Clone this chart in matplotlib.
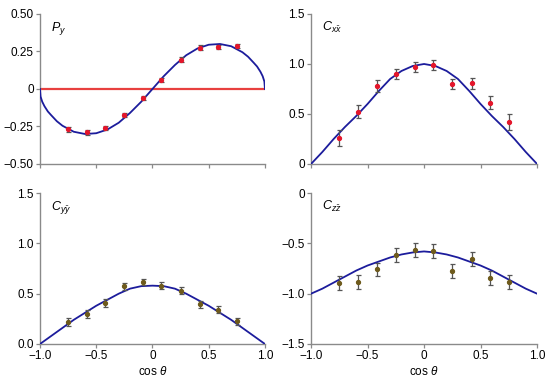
import numpy as np
import matplotlib
matplotlib.use("Agg")
import matplotlib.pyplot as plt

plt.rcParams['font.family'] = ['Liberation Sans', 'DejaVu Sans']
plt.rcParams['mathtext.fontset'] = 'custom'
plt.rcParams['mathtext.it'] = 'Liberation Sans:italic'
plt.rcParams['mathtext.rm'] = 'Liberation Sans'

# measured points (cos theta bins)
x_pts = [-0.75, -0.58, -0.42, -0.25, -0.08, 0.08, 0.25, 0.42, 0.58, 0.75]

py_val = [-0.27, -0.29, -0.26, -0.175, -0.06, 0.06, 0.195, 0.275, 0.28, 0.285]
py_err = [0.015] * 10

cxx_val = [0.26, 0.52, 0.775, 0.895, 0.965, 0.99, 0.795, 0.805, 0.61, 0.42]
cxx_err = [0.08, 0.065, 0.06, 0.05, 0.05, 0.05, 0.05, 0.055, 0.065, 0.08]

cyy_val = [0.22, 0.30, 0.41, 0.575, 0.62, 0.58, 0.53, 0.395, 0.34, 0.225]
cyy_err = [0.04, 0.04, 0.04, 0.035, 0.03, 0.035, 0.035, 0.035, 0.035, 0.035]

czz_val = [-0.89, -0.88, -0.755, -0.615, -0.57, -0.575, -0.77, -0.655, -0.845, -0.885]
czz_err = [0.07, 0.07, 0.065, 0.07, 0.07, 0.07, 0.07, 0.065, 0.07, 0.07]

# theory curves
x_py_curve = [-1.0, -0.995, -0.98, -0.96, -0.93, -0.9, -0.85, -0.8, -0.7, -0.6, -0.5, -0.4,
              -0.3, -0.2, -0.1, 0.0, 0.1, 0.2, 0.3, 0.4, 0.5, 0.6, 0.7, 0.8, 0.85,
              0.9, 0.93, 0.96, 0.98, 0.995, 1.0]
py_curve = [0.0, -0.05, -0.085, -0.115, -0.15, -0.175, -0.215, -0.245, -0.285, -0.30, -0.295,
            -0.27, -0.225, -0.16, -0.085, 0.0, 0.085, 0.16, 0.225, 0.27, 0.295, 0.30,
            0.285, 0.245, 0.215, 0.175, 0.15, 0.115, 0.085, 0.05, 0.0]

x_curve = [-1.0, -0.9, -0.8, -0.7, -0.6, -0.5, -0.4, -0.3, -0.2, -0.1, 0.0,
           0.1, 0.2, 0.3, 0.4, 0.5, 0.6, 0.7, 0.8, 0.9, 1.0]
cxx_curve = [0.0, 0.12, 0.25, 0.37, 0.48, 0.6, 0.73, 0.85, 0.93, 0.98, 1.0,
             0.98, 0.93, 0.85, 0.73, 0.6, 0.48, 0.37, 0.25, 0.12, 0.0]
cyy_curve = [0.0, 0.08, 0.16, 0.24, 0.31, 0.38, 0.44, 0.50, 0.55, 0.575, 0.58,
             0.575, 0.55, 0.50, 0.44, 0.38, 0.31, 0.24, 0.16, 0.08, 0.0]
czz_curve = [-1.0, -0.95, -0.89, -0.83, -0.77, -0.72, -0.68, -0.64, -0.61, -0.59, -0.58,
             -0.59, -0.61, -0.64, -0.68, -0.72, -0.77, -0.83, -0.89, -0.95, -1.0]

x_ticks = [-1.0, -0.5, 0, 0.5, 1.0]
x_ticklabels = ['\u22121.0', '\u22120.5', '0', '0.5', '1.0']

blue = '#1c1c9c'
red_pt = '#e3162b'
olive_pt = '#6e5a1c'
axis_gray = '#8a8a8a'

fig = plt.figure(figsize=(5.5, 3.82), dpi=100)
boxes = [
    [0.0727, 0.5707, 0.409, 0.3927],
    [0.5655, 0.5707, 0.411, 0.3927],
    [0.0727, 0.0995, 0.409, 0.395],
    [0.5655, 0.0995, 0.411, 0.395],
]

panels = [
    dict(xc=x_py_curve, yc=py_curve, v=py_val, e=py_err, col=red_pt,
         ylim=(-0.5, 0.5), yt=[-0.5, -0.25, 0, 0.25, 0.5],
         ytl=['\u22120.50', '\u22120.25', '0', '0.25', '0.50'], lab=r'$P_y$'),
    dict(xc=x_curve, yc=cxx_curve, v=cxx_val, e=cxx_err, col=red_pt,
         ylim=(0, 1.5), yt=[0, 0.5, 1.0, 1.5],
         ytl=['0', '0.5', '1.0', '1.5'], lab=r'$C_{x\bar{x}}$'),
    dict(xc=x_curve, yc=cyy_curve, v=cyy_val, e=cyy_err, col=olive_pt,
         ylim=(0, 1.5), yt=[0, 0.5, 1.0, 1.5],
         ytl=['0.0', '0.5', '1.0', '1.5'], lab=r'$C_{y\bar{y}}$'),
    dict(xc=x_curve, yc=czz_curve, v=czz_val, e=czz_err, col=olive_pt,
         ylim=(-1.5, 0), yt=[-1.5, -1.0, -0.5, 0],
         ytl=['\u22121.5', '\u22121.0', '\u22120.5', '0'], lab=r'$C_{z\bar{z}}$'),
]

for i, (box, p) in enumerate(zip(boxes, panels)):
    ax = fig.add_axes(box)
    if i == 0:
        ax.plot([-1, 1], [0, 0], color='#e8403f', lw=1.6, zorder=2)
    ax.plot(p['xc'], p['yc'], color=blue, lw=1.3, zorder=3)
    ax.errorbar(x_pts, p['v'], yerr=p['e'], fmt='o', color=p['col'], ms=2.8,
                ecolor='#555555', elinewidth=0.9, capsize=1.8, capthick=0.9, zorder=4)
    ax.set_xlim(-1, 1)
    ax.set_ylim(*p['ylim'])
    ax.set_yticks(p['yt'])
    ax.set_yticklabels(p['ytl'])
    ax.set_xticks(x_ticks)
    if i >= 2:
        ax.set_xticklabels(x_ticklabels)
        ax.set_xlabel(r'cos $\theta$', fontsize=8.5, labelpad=2)
    else:
        ax.set_xticklabels([])
    for s in ['top', 'right']:
        ax.spines[s].set_visible(False)
    for s in ['left', 'bottom']:
        ax.spines[s].set_color(axis_gray)
        ax.spines[s].set_linewidth(1.0)
    ax.tick_params(direction='out', length=3, width=0.9, color=axis_gray,
                   labelsize=8.5, pad=1.5)
    ax.text(0.05, 0.96, p['lab'], transform=ax.transAxes, fontsize=9,
            va='top', ha='left')

fig.savefig('out.png', dpi=100)
